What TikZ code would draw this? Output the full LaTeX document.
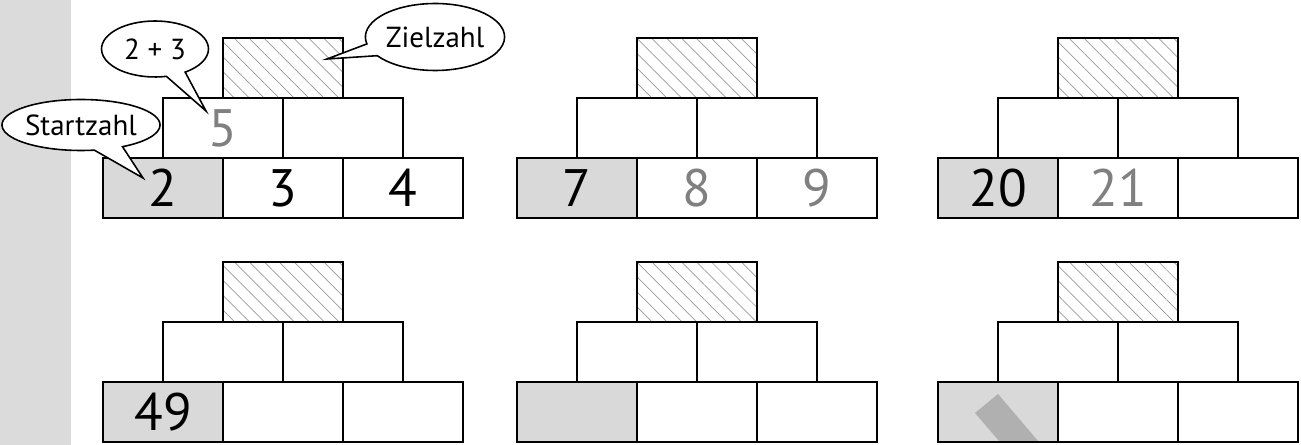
\documentclass[tikz,border=0pt]{standalone}
\usepackage{fontspec}
\setmainfont{PT Sans}
\usetikzlibrary{shapes.callouts, patterns.meta, calc}
\definecolor{startgray}{HTML}{D9D9D9}
\definecolor{stripgray}{HTML}{DBDBDB}
\definecolor{hintgray}{HTML}{808080}
\definecolor{pencilgray}{HTML}{B0B0B0}

\begin{document}
\begin{tikzpicture}[
  x=0.02cm, y=-0.02cm,
  font=\fontsize{30}{34}\selectfont,
  brick/.style={draw, line width=1.2pt, rectangle,
                minimum width=2.4cm, minimum height=1.2cm,
                inner sep=0pt, fill=white},
  startbrick/.style={brick, fill=startgray},
  goalbrick/.style={draw, line width=1.2pt, rectangle,
                minimum width=2.4cm, minimum height=1.2cm, inner sep=0pt,
                pattern={Lines[angle=-45, distance=6pt, line width=0.4pt]},
                pattern color=gray!80},
  bubble/.style={ellipse callout, draw, line width=0.9pt, fill=white,
                inner sep=0pt, callout pointer arc=22,
                font=\fontsize{16.5}{19}\selectfont}
]

\useasboundingbox (0,0) rectangle (1301,445);

%% Margin strip
\fill[stripgray] (0,0) rectangle (71,445);

%% Pyramids: number/left/top/bottom row/middle-left
\foreach \n/\px/\py/\a/\b/\c/\m in {
    1/103/38/2/3/4/{\color{hintgray}5},
    2/517/38/7/{\color{hintgray}8}/{\color{hintgray}9}/{},
    3/938/38/20/{\color{hintgray}21}/{}/{},
    4/103/262/49/{}/{}/{},
    5/517/262/{}/{}/{}/{},
    6/938/262/{}/{}/{}/{}}{
  \node[goalbrick]  (p\n-t) at (\px+180, \py+30)  {};
  \node[brick]      (p\n-l) at (\px+120, \py+90)  {\m};
  \node[brick]      (p\n-r) at (\px+240, \py+90)  {};
  \node[startbrick] (p\n-a) at (\px+60,  \py+150) {\a};
  \node[brick]      (p\n-b) at (\px+180, \py+150) {\b};
  \node[brick]      (p\n-c) at (\px+300, \py+150) {\c};
}

%% Pencil in the last start brick
\fill[pencilgray] (975,413) -- (998,394) -- (1038,441) -- (999,441) -- cycle;

%% Callouts
\node[bubble, minimum width=3.04cm, minimum height=1.02cm,
      callout absolute pointer={($(p1-a)+(-20,-10)$)}]
      (startnote) at (81,125) {Startzahl};
\node[bubble, minimum width=2.14cm, minimum height=1.12cm,
      callout absolute pointer={($(p1-l)+(-17,-17)$)}]
      (sumnote) at (155,49) {2 + 3};
\node[bubble, minimum width=2.74cm, minimum height=1.34cm,
      callout absolute pointer={($(p1-t)+(44,-9)$)}]
      (goalnote) at (435,37) {Zielzahl};

\end{tikzpicture}
\end{document}
